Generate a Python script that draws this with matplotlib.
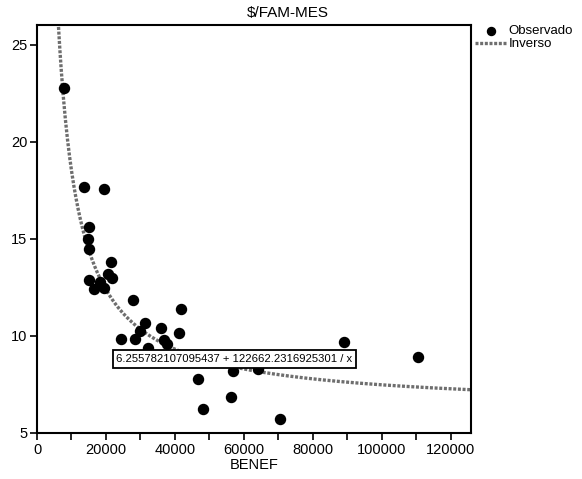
import numpy as np
import matplotlib
matplotlib.use("Agg")
import matplotlib.pyplot as plt

plt.rcParams['font.family'] = ['Liberation Sans', 'DejaVu Sans']

# Data
benef = [7800, 13600, 19400, 15000, 14700, 15100, 21400, 20500, 21800, 15200,
         18200, 16400, 19300, 27700, 41700, 31200, 29800, 35900, 24300, 28500,
         41100, 36900, 37600, 32100, 89100, 110300, 56700, 64200, 46800, 56100,
         48100, 70400]
fam_mes = [22.8, 17.7, 17.56, 15.6, 15.0, 14.5, 13.8, 13.2, 13.0, 12.9,
           12.8, 12.4, 12.45, 11.84, 11.4, 10.65, 10.24, 10.4, 9.83, 9.83,
           10.15, 9.8, 9.59, 9.37, 9.68, 8.93, 8.21, 8.3, 7.78, 6.87,
           6.22, 5.71]
b0 = 6.255782107095437
b1 = 122662.2316925301
x_ticks = [0, 20000, 40000, 60000, 80000, 100000, 120000]
y_ticks = [5, 10, 15, 20, 25]

W, H = 582, 479
fig = plt.figure(figsize=(W/100, H/100), dpi=100)
ax = fig.add_axes([37/W, 1-433/H, (471-37)/W, (433-25)/H])

xs = np.linspace(5000, 126000, 600)
ax.plot(xs, b0 + b1/xs, color='#6e6e6e', lw=2.4, linestyle=(0, (0.9, 0.5)),
        label='Inverso', zorder=2)
ax.scatter(benef, fam_mes, s=52, color='black', label='Observado', zorder=3)

ax.set_xlim(0, 125800)
ax.set_ylim(5, 26.03)
ax.set_xticks(x_ticks)
ax.set_xticks(np.arange(10000, 125000, 20000), minor=True)
ax.set_yticks(y_ticks)
ax.tick_params(axis='both', which='major', length=5, width=1.2, labelsize=10.5, pad=2)
ax.tick_params(axis='x', which='minor', length=5, width=1.2)
for s in ax.spines.values():
    s.set_linewidth(1.5)

ax.set_xlabel('BENEF', fontsize=10.5, labelpad=1)
fig.text(288/W, 1-13/H, r'\$/FAM-MES', ha='center', va='center', fontsize=11)

ax.text(57250, 8.81, f'{b0} + {b1} / x', ha='center', va='center', fontsize=8.1,
        bbox=dict(boxstyle='square,pad=0.32', facecolor='white', edgecolor='black', lw=1.3),
        zorder=5)

h, l = ax.get_legend_handles_labels()
leg = ax.legend([h[1], h[0]], [l[1], l[0]], loc='upper left',
                bbox_to_anchor=(1.01, 1.0), frameon=False, fontsize=9.5,
                handlelength=2.3, handletextpad=0.2, labelspacing=0.05,
                borderaxespad=0.0, borderpad=0.0, markerscale=0.8)

fig.savefig('out.png', dpi=100)
